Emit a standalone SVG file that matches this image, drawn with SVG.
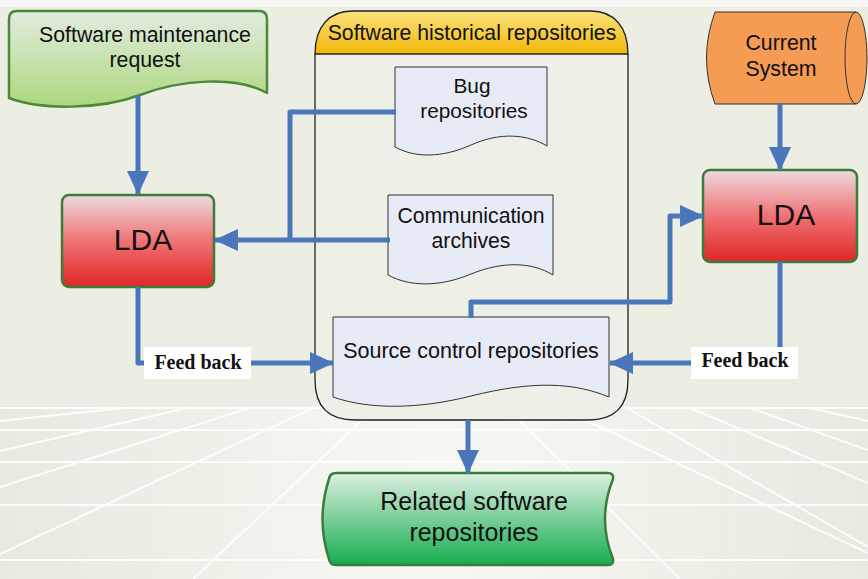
<svg xmlns="http://www.w3.org/2000/svg" width="868" height="579" viewBox="0 0 868 579">
<defs>
<style>
.t{font-family:"Liberation Sans",Arial,sans-serif;fill:#111;text-anchor:middle}
.fb{font-family:"Liberation Serif","Times New Roman",serif;font-weight:bold;font-size:20px;fill:#111;text-anchor:middle}
.con{fill:none;stroke:#4a77b9;stroke-width:5;stroke-linejoin:round}
.doc{fill:#e7ebf5;stroke:#333;stroke-width:1}
.grid{stroke:#ffffff;stroke-width:2;opacity:0.9}
.lda{fill:url(#gLda);stroke:#3d7b3a;stroke-width:2.5}
</style>
<linearGradient id="gLda" x1="0" y1="0" x2="0" y2="1">
<stop offset="0" stop-color="#ecdbe0"/>
<stop offset="0.5" stop-color="#f07274"/>
<stop offset="1" stop-color="#df2626"/>
</linearGradient>
<linearGradient id="gReq" x1="0" y1="0" x2="0" y2="1">
<stop offset="0" stop-color="#e3ece0"/>
<stop offset="1" stop-color="#acd77e"/>
</linearGradient>
<linearGradient id="gHead" x1="0" y1="0" x2="0" y2="1">
<stop offset="0" stop-color="#fbe27e"/>
<stop offset="1" stop-color="#f2b705"/>
</linearGradient>
<linearGradient id="gRel" x1="0" y1="0" x2="0" y2="1">
<stop offset="0" stop-color="#dcefe1"/>
<stop offset="1" stop-color="#15ad4f"/>
</linearGradient>
<linearGradient id="gFloor" x1="0" y1="0" x2="1" y2="0">
<stop offset="0" stop-color="#e7eadf"/>
<stop offset="0.5" stop-color="#f7f8f3"/>
<stop offset="1" stop-color="#e7eadf"/>
</linearGradient>
<marker id="ah" viewBox="0 0 24 24" markerWidth="24" markerHeight="24" refX="23" refY="12" orient="auto" markerUnits="userSpaceOnUse">
<path d="M0,1 L24,12 L0,23 Z" fill="#4a77b9"/>
</marker>
</defs>

<g id="background">
<rect x="0" y="0" width="868" height="579" fill="#eceee4"/>
<rect x="0" y="0" width="868" height="7" fill="#f7f7f3"/>
<rect x="0" y="406" width="868" height="173" fill="url(#gFloor)"/>
<line class="grid" x1="0" y1="408" x2="868" y2="408"/>
<line class="grid" x1="0" y1="430" x2="868" y2="430"/>
<line class="grid" x1="0" y1="462" x2="868" y2="462"/>
<line class="grid" x1="0" y1="505" x2="868" y2="505"/>
<line class="grid" x1="0" y1="560" x2="868" y2="560"/>
<line class="grid" x1="0" y1="554" x2="313" y2="408"/>
<line class="grid" x1="0" y1="487" x2="250" y2="408"/>
<line class="grid" x1="0" y1="451" x2="187" y2="408"/>
<line class="grid" x1="0" y1="421" x2="123" y2="408"/>
<line class="grid" x1="193" y1="579" x2="375" y2="408"/>
<line class="grid" x1="627" y1="408" x2="868" y2="547"/>
<line class="grid" x1="690" y1="408" x2="868" y2="483"/>
<line class="grid" x1="750" y1="408" x2="868" y2="450"/>
<line class="grid" x1="810" y1="408" x2="868" y2="421"/>
<line class="grid" x1="560" y1="408" x2="868" y2="553"/>
<line class="grid" x1="507" y1="408" x2="680" y2="579"/>
</g>

<g id="historical-repositories">
<path d="M315,54 V380 Q315,420 355,420 H588 Q628,420 628,380 V54" fill="#eef0e7" stroke="#222" stroke-width="1.3"/>
<path d="M315,54 C315,26 330,11 352,11 H591 C613,11 628,26 628,54 Z" fill="url(#gHead)" stroke="#222" stroke-width="1.3"/>
<text class="t" x="472" y="40" font-size="21.2">Software historical repositories</text>
</g>

<g id="bug-repositories">
<path class="doc" d="M395,67 H547 V146 C527,134 500,132 471,145 C442,158 415,158 395,147 Z"/>
<text class="t" x="472" y="93" font-size="20.8">Bug</text>
<text class="t" x="474" y="118" font-size="20.8">repositories</text>
</g>

<g id="communication-archives">
<path class="doc" d="M388,195 H553 V275 C532,262 503,261 471,274 C440,287 410,287 388,275 Z"/>
<text class="t" x="471" y="223" font-size="21.2">Communication</text>
<text class="t" x="471" y="248" font-size="21.2">archives</text>
</g>

<g id="source-control">
<path class="doc" d="M333,317 H609 V397 C575,383 535,380 471,396 C420,409 370,410 333,397 Z"/>
<text class="t" x="471" y="358" font-size="21.5">Source control repositories</text>
</g>

<g id="maintenance-request">
<path d="M9,19 Q9,11 17,11 H259 Q267,11 267,19 V93 C235,75 180,80 140,95 C100,110 40,110 9,98 Z" fill="url(#gReq)" stroke="#4a8a3a" stroke-width="2.5" stroke-linejoin="round"/>
<text class="t" x="145" y="42" font-size="21.3">Software maintenance</text>
<text class="t" x="145" y="67" font-size="21.3">request</text>
</g>

<g id="lda-left">
<rect class="lda" x="62" y="195" width="152" height="92" rx="7"/>
<text class="t" x="143" y="250" font-size="30">LDA</text>
</g>

<g id="current-system">
<path d="M715,12 H856 A11,46 0 0 1 856,104 H715 Q698,58 715,12 Z" fill="#f49b54" stroke="#333" stroke-width="1"/>
<path d="M856,12 A11,46 0 0 0 856,104" fill="none" stroke="#333" stroke-width="1"/>
<text class="t" x="781" y="50" font-size="21.3">Current</text>
<text class="t" x="781" y="76" font-size="21.3">System</text>
</g>

<g id="lda-right">
<rect class="lda" x="703" y="170" width="154" height="92" rx="7"/>
<text class="t" x="786" y="225" font-size="30">LDA</text>
</g>

<g id="related-repositories">
<path d="M336,473 H608 Q614,473 613,479 Q597,519 613,559 Q614,565 608,565 H336 Q330,565 329,559 Q316,519 329,479 Q330,473 336,473 Z" fill="url(#gRel)" stroke="#3a7d3a" stroke-width="2.5"/>
<text class="t" x="474" y="510" font-size="25">Related software</text>
<text class="t" x="474" y="541" font-size="25">repositories</text>
</g>

<g id="connectors">
<path class="con" d="M138,95 V194" marker-end="url(#ah)"/>
<path class="con" d="M396,112 H290 V240"/>
<path class="con" d="M390,240 H215" marker-end="url(#ah)"/>
<path class="con" d="M138,287 V363 H333" marker-end="url(#ah)"/>
<path class="con" d="M471,318 V302 H670 V216 H703" marker-end="url(#ah)"/>
<path class="con" d="M780,104 V170" marker-end="url(#ah)"/>
<path class="con" d="M780,262 V363 H610" marker-end="url(#ah)"/>
<path class="con" d="M468,420 V473" marker-end="url(#ah)"/>
</g>

<g id="labels">
<rect x="144" y="347" width="107" height="32" fill="#ffffff"/>
<text class="fb" x="198" y="369">Feed back</text>
<rect x="691" y="347" width="107" height="32" fill="#ffffff"/>
<text class="fb" x="745" y="367">Feed back</text>
</g>
</svg>
